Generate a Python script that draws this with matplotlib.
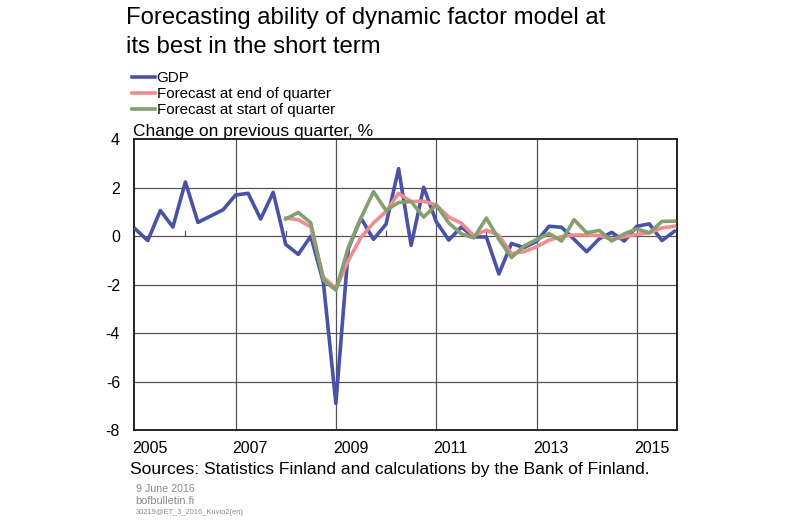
import matplotlib
matplotlib.use("Agg")
import matplotlib.pyplot as plt
import matplotlib.transforms as mtransforms
import numpy as np

plt.rcParams['font.family'] = ['Liberation Sans', 'DejaVu Sans']

# ---- data ----
gdp = [0.30, -0.18, 1.06, 0.38,
       2.24, 0.57, 0.83, 1.09,
       1.70, 1.77, 0.71, 1.81,
       -0.34, -0.75, 0.00, -1.90,
       -6.90, -0.50, 0.75, -0.13,
       0.50, 2.79, -0.38, 2.02,
       0.61, -0.16, 0.38, -0.03,
       -0.03, -1.56, -0.30, -0.47,
       -0.22, 0.41, 0.37, -0.13,
       -0.64, -0.11, 0.16, -0.20,
       0.41, 0.51, -0.18, 0.20]
fc_end = [0.75, 0.68, 0.38, -1.68,
          -2.17, -1.00, -0.05, 0.55,
          1.02, 1.77, 1.43, 1.45,
          1.29, 0.79, 0.54, 0.02,
          0.25, 0.03, -0.72, -0.64,
          -0.44, -0.16, -0.02, 0.05,
          0.05, 0.03, -0.13, -0.02,
          0.07, 0.14, 0.34, 0.41]
fc_start = [0.71, 0.98, 0.55, -1.80,
            -2.23, -0.45, 0.75, 1.84,
            1.06, 1.39, 1.43, 0.79,
            1.29, 0.55, 0.10, -0.07,
            0.75, -0.13, -0.88, -0.41,
            -0.14, 0.11, -0.20, 0.68,
            0.14, 0.24, -0.20, 0.10,
            0.30, 0.14, 0.61, 0.62]
series_labels = ["GDP", "Forecast at end of quarter", "Forecast at start of quarter"]
year_ticks = [2005, 2007, 2009, 2011, 2013, 2015]
year_labels = ["2005", "2007", "2009", "2011", "2013", "2015"]
yticks = [4, 2, 0, -2, -4, -6, -8]

x_gdp = 2005 + np.arange(len(gdp)) / 4.0
x_fc = 2008 + np.arange(len(fc_end)) / 4.0

# ---- figure ----
fig = plt.figure(figsize=(8.0, 5.22), dpi=100)
W, H = 800, 522
left, right, top, bottom = 134, 676.7, 139.3, 430
ax = fig.add_axes([left / W, 1 - bottom / H, (right - left) / W, (bottom - top) / H])

c_gdp = '#4A52A5'
c_end = '#F08C8E'
c_start = '#84A071'

l1, = ax.plot(x_gdp, gdp, color=c_gdp, lw=2.6, zorder=3)
l2, = ax.plot(x_fc, fc_end, color=c_end, lw=2.6, zorder=4)
l3, = ax.plot(x_fc, fc_start, color=c_start, lw=2.6, zorder=5)

ax.set_xlim(2004.975, 2015.795)
ax.set_ylim(-8, 4)

# grid
for yv in [2, 0, -2, -4, -6]:
    ax.axhline(yv, color='#555555', lw=0.9, zorder=1)
for xv in [2007, 2009, 2011, 2013, 2015]:
    ax.axvline(xv, color='#555555', lw=0.9, zorder=1)
# small year ticks on zero line
for xv in [2006, 2008, 2010, 2012, 2014]:
    ax.plot([xv, xv], [0, 0.2], color='#555555', lw=0.9, zorder=1)

for s in ax.spines.values():
    s.set_linewidth(1.4)
    s.set_color('#222222')

ax.set_yticks(yticks)
ax.set_yticklabels([str(v) for v in yticks], fontsize=11.5)
ax.tick_params(axis='y', length=0, pad=10)
ax.set_xticks(year_ticks)
ax.set_xticklabels(year_labels, fontsize=11.5, ha='left')
ax.tick_params(axis='x', length=0, pad=8)
off = mtransforms.ScaledTranslation(-3 / 100, 0, fig.dpi_scale_trans)
for lab in ax.get_xticklabels():
    lab.set_transform(lab.get_transform() + off)

# title
fig.text(126 / W, 1 - 24 / H, "Forecasting ability of dynamic factor model at",
         fontsize=17.2, va='baseline', ha='left')
fig.text(126 / W, 1 - 53.3 / H, "its best in the short term",
         fontsize=17.2, va='baseline', ha='left')

# legend
leg = fig.legend([l1, l2, l3], series_labels, loc='upper left',
                 bbox_to_anchor=(131.7 / W, 1 - 71 / H), bbox_transform=fig.transFigure,
                 frameon=False, fontsize=10.9, handlelength=1.55, handletextpad=0.1,
                 borderpad=0, borderaxespad=0, labelspacing=0.13)

fig.text(133.3 / W, 1 - 136 / H, "Change on previous quarter, %", fontsize=12.5,
         va='baseline', ha='left')
fig.text(130 / W, 1 - 474 / H, "Sources: Statistics Finland and calculations by the Bank of Finland.",
         fontsize=12.6, va='baseline', ha='left')
fig.text(135.7 / W, 1 - 492.3 / H, "9 June 2016", fontsize=7.7, color='#8a8a8a',
         va='baseline', ha='left')
fig.text(135.7 / W, 1 - 504.3 / H, "bofbulletin.fi", fontsize=7.9, color='#8a8a8a',
         va='baseline', ha='left')
fig.text(135.7 / W, 1 - 514.3 / H, "30219@ET_3_2016_Kuvio2(en)", fontsize=5.4, color='#8a8a8a',
         va='baseline', ha='left')

fig.savefig("out.png", dpi=100)
